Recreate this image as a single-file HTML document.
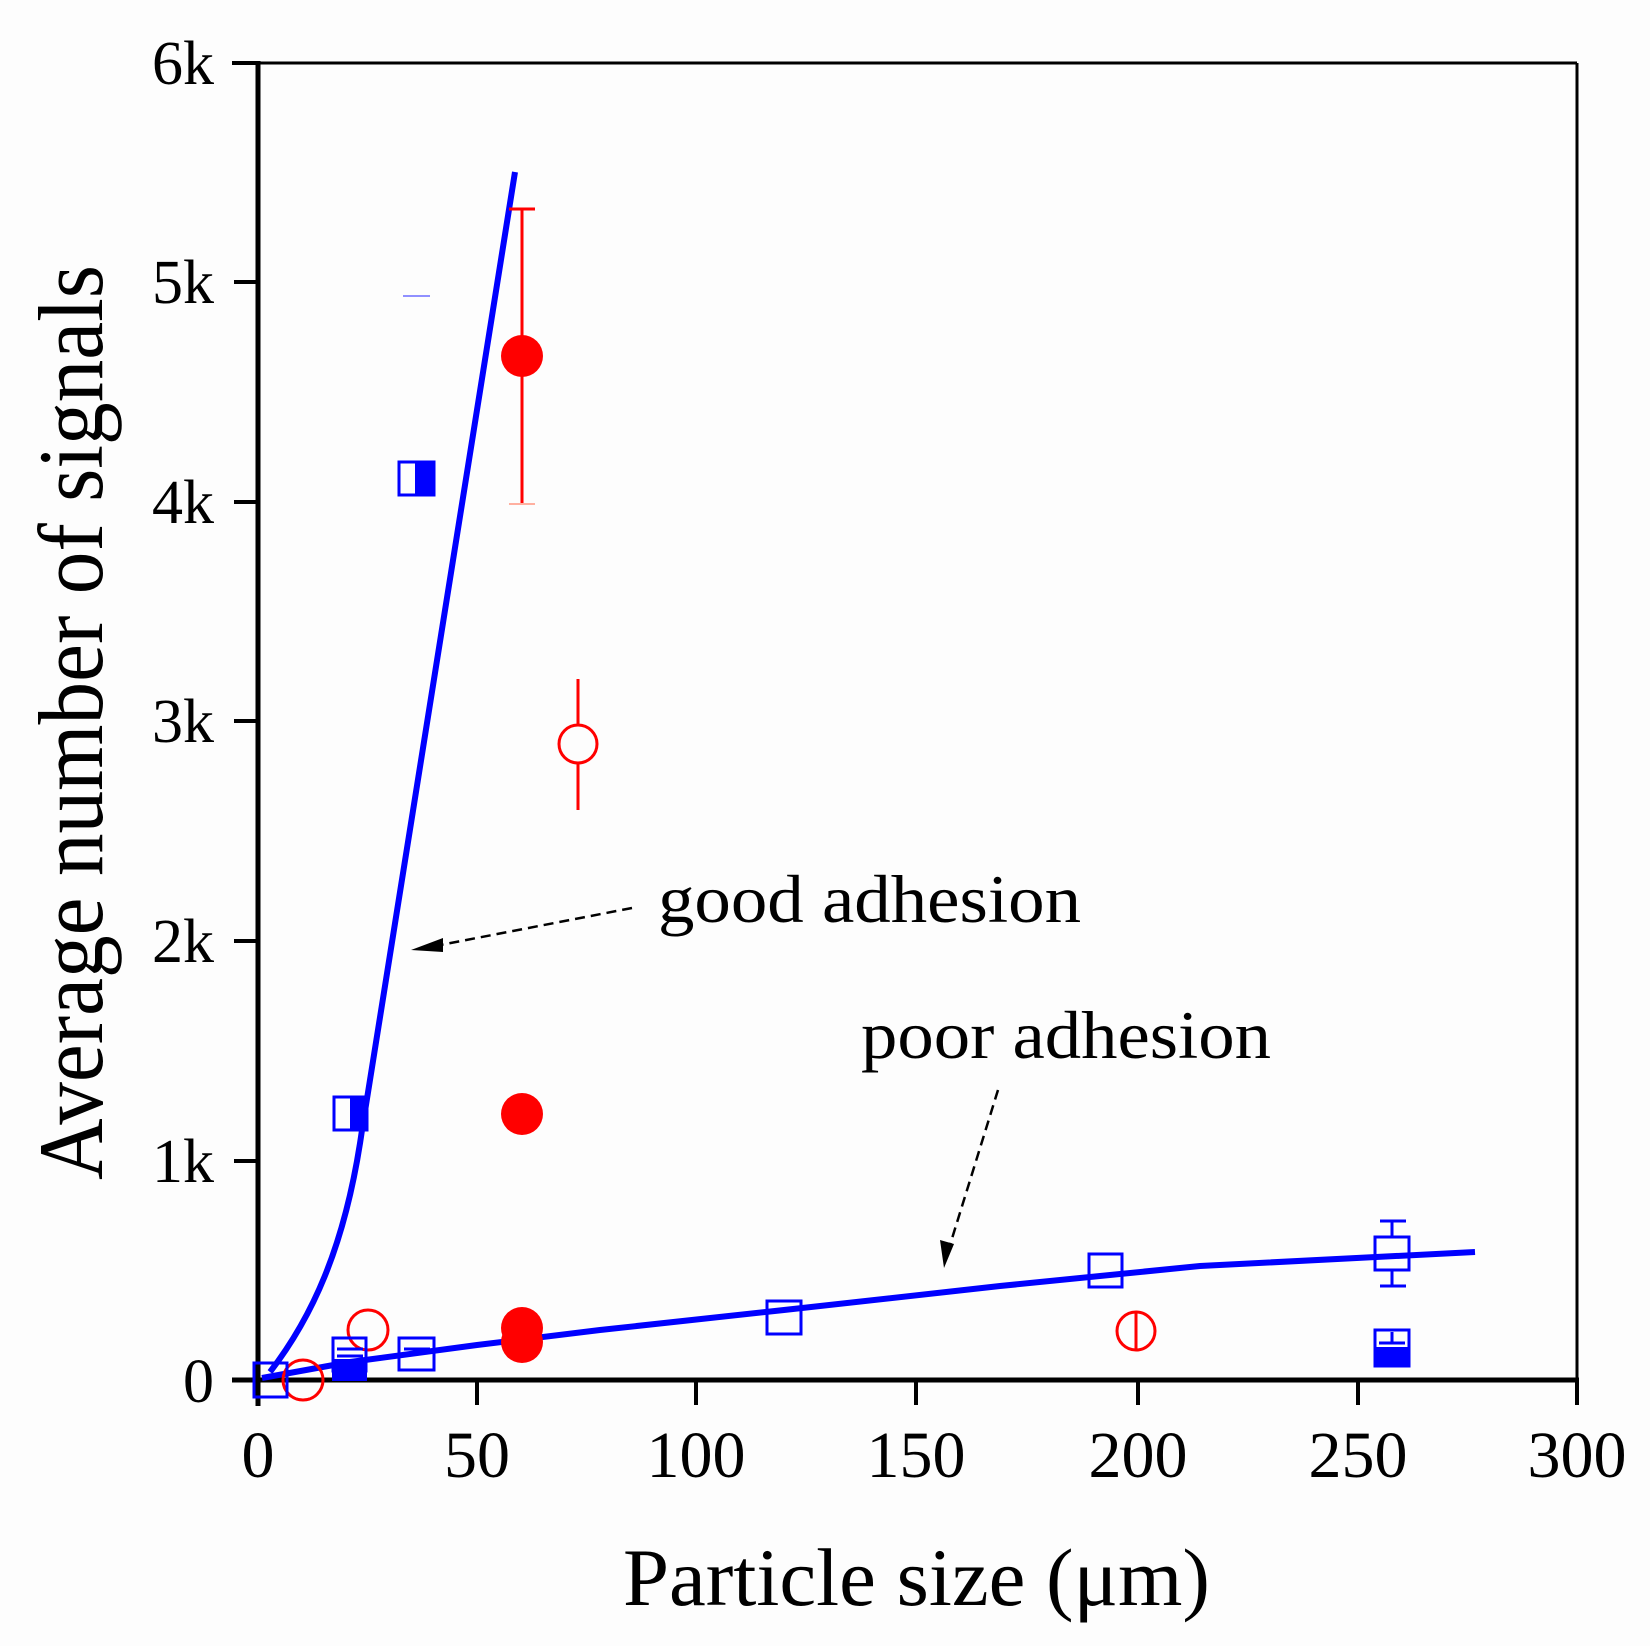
<!DOCTYPE html>
<html><head><style>
html,body{margin:0;padding:0;background:#fdfdfd;}
svg{display:block;}
text{font-family:"Liberation Serif",serif;fill:#000;}
</style></head><body>
<svg width="1650" height="1646" viewBox="0 0 1650 1646" xmlns="http://www.w3.org/2000/svg">
<rect width="1650" height="1646" fill="#fdfdfd"/>
<line x1="258" y1="63" x2="1577" y2="63" stroke="#000" stroke-width="3"/>
<line x1="1577" y1="63" x2="1577" y2="1380" stroke="#000" stroke-width="3"/>
<line x1="258" y1="61" x2="258" y2="1406" stroke="#000" stroke-width="5"/>
<line x1="232" y1="1380" x2="1579" y2="1380" stroke="#000" stroke-width="5"/>
<g stroke="#000" stroke-width="4">
<line x1="232" y1="63" x2="258" y2="63"/>
<line x1="234" y1="282" x2="258" y2="282"/>
<line x1="234" y1="502" x2="258" y2="502"/>
<line x1="234" y1="721" x2="258" y2="721"/>
<line x1="234" y1="941" x2="258" y2="941"/>
<line x1="234" y1="1161" x2="258" y2="1161"/>
<line x1="477" y1="1380" x2="477" y2="1405"/>
<line x1="696" y1="1380" x2="696" y2="1405"/>
<line x1="916" y1="1380" x2="916" y2="1405"/>
<line x1="1138" y1="1380" x2="1138" y2="1405"/>
<line x1="1358" y1="1380" x2="1358" y2="1405"/>
<line x1="1577" y1="1380" x2="1577" y2="1405"/>
</g>
<g font-size="62" text-anchor="end">
<text x="214" y="84">6k</text>
<text x="214" y="303">5k</text>
<text x="214" y="523">4k</text>
<text x="214" y="742">3k</text>
<text x="214" y="962">2k</text>
<text x="214" y="1182">1k</text>
<text x="214" y="1402">0</text>
</g>
<g font-size="66" text-anchor="middle">
<text x="258" y="1477">0</text>
<text x="477" y="1477">50</text>
<text x="696" y="1477">100</text>
<text x="916" y="1477">150</text>
<text x="1138" y="1477">200</text>
<text x="1358" y="1477">250</text>
<text x="1577" y="1477">300</text>
</g>
<text transform="translate(102,1180) rotate(-90)" font-size="92" textLength="915" lengthAdjust="spacingAndGlyphs">Average number of signals</text>
<text x="623" y="1605" font-size="82" textLength="587" lengthAdjust="spacingAndGlyphs">Particle size (μm)</text>
<text x="658" y="922" font-size="68" textLength="423" lengthAdjust="spacingAndGlyphs">good adhesion</text>
<text x="861" y="1058" font-size="68" textLength="410" lengthAdjust="spacingAndGlyphs">poor adhesion</text>
<line x1="632" y1="908" x2="430" y2="947" stroke="#000" stroke-width="2.5" stroke-dasharray="10,6"/>
<polygon points="411,950 443,938 443,952" fill="#000"/>
<line x1="998" y1="1090" x2="950" y2="1245" stroke="#000" stroke-width="2.5" stroke-dasharray="10,6"/>
<polygon points="944,1268 940,1240 954,1244" fill="#000"/>
<path d="M270,1372 C310,1320 345,1250 362,1130 L515,172" fill="none" stroke="#0000ff" stroke-width="6"/>
<path d="M262,1378 L350,1362 L477,1345 L600,1330 L784,1310 L1000,1286 L1200,1266 L1475,1252" fill="none" stroke="#0000ff" stroke-width="6"/>
<g stroke="#ff0000" stroke-width="3">
<line x1="522" y1="209" x2="522" y2="504"/>
<line x1="509" y1="209" x2="535" y2="209"/>
<line x1="509" y1="504" x2="535" y2="504" stroke="#ffb0a0" stroke-width="2"/>
<line x1="578" y1="679" x2="578" y2="810"/>
<line x1="1136" y1="1312" x2="1136" y2="1349"/>
</g>
<g fill="#ff0000">
<circle cx="522" cy="356" r="21"/>
<circle cx="522" cy="1114" r="21"/>
<circle cx="522" cy="1342" r="21"/>
<circle cx="522" cy="1328" r="21"/>
</g>
<g fill="none" stroke="#ff0000" stroke-width="3">
<circle cx="578" cy="744" r="19" fill="#fdfdfd"/>
<circle cx="303" cy="1380" r="20"/>
<circle cx="368" cy="1330" r="20"/>
<circle cx="1136" cy="1331" r="19"/>
</g>
<g stroke="#0000ff" stroke-width="3" fill="none">
<line x1="403" y1="296" x2="430" y2="296" stroke="#9090ff" stroke-width="2"/>
<rect x="399" y="462" width="35" height="33"/>
<rect x="334" y="1097" width="33" height="33"/>
<rect x="254" y="1363" width="33" height="34"/>
<rect x="333" y="1338" width="33" height="33"/>
<line x1="337" y1="1349" x2="363" y2="1349"/>
<line x1="337" y1="1356" x2="363" y2="1356"/>
<rect x="399" y="1338" width="35" height="32"/>
<line x1="404" y1="1349" x2="430" y2="1349"/>
<rect x="767" y="1301" width="34" height="33"/>
<rect x="1089" y="1254" width="33" height="33"/>
<rect x="1375" y="1237" width="34" height="33"/>
<line x1="1392" y1="1221" x2="1392" y2="1237"/>
<line x1="1380" y1="1221" x2="1406" y2="1221"/>
<line x1="1392" y1="1270" x2="1392" y2="1286"/>
<line x1="1380" y1="1286" x2="1406" y2="1286"/>
<rect x="1375" y="1330" width="34" height="36"/>
<line x1="1379" y1="1343" x2="1405" y2="1343"/>
<line x1="1392" y1="1332" x2="1392" y2="1343"/>
</g>
<g fill="#0000ff">
<rect x="415" y="462" width="20" height="34"/>
<rect x="350" y="1097" width="18" height="34"/>
<rect x="332" y="1359" width="35" height="22"/>
<rect x="1374" y="1347" width="36" height="20"/>
</g>
</svg>
</body></html>
